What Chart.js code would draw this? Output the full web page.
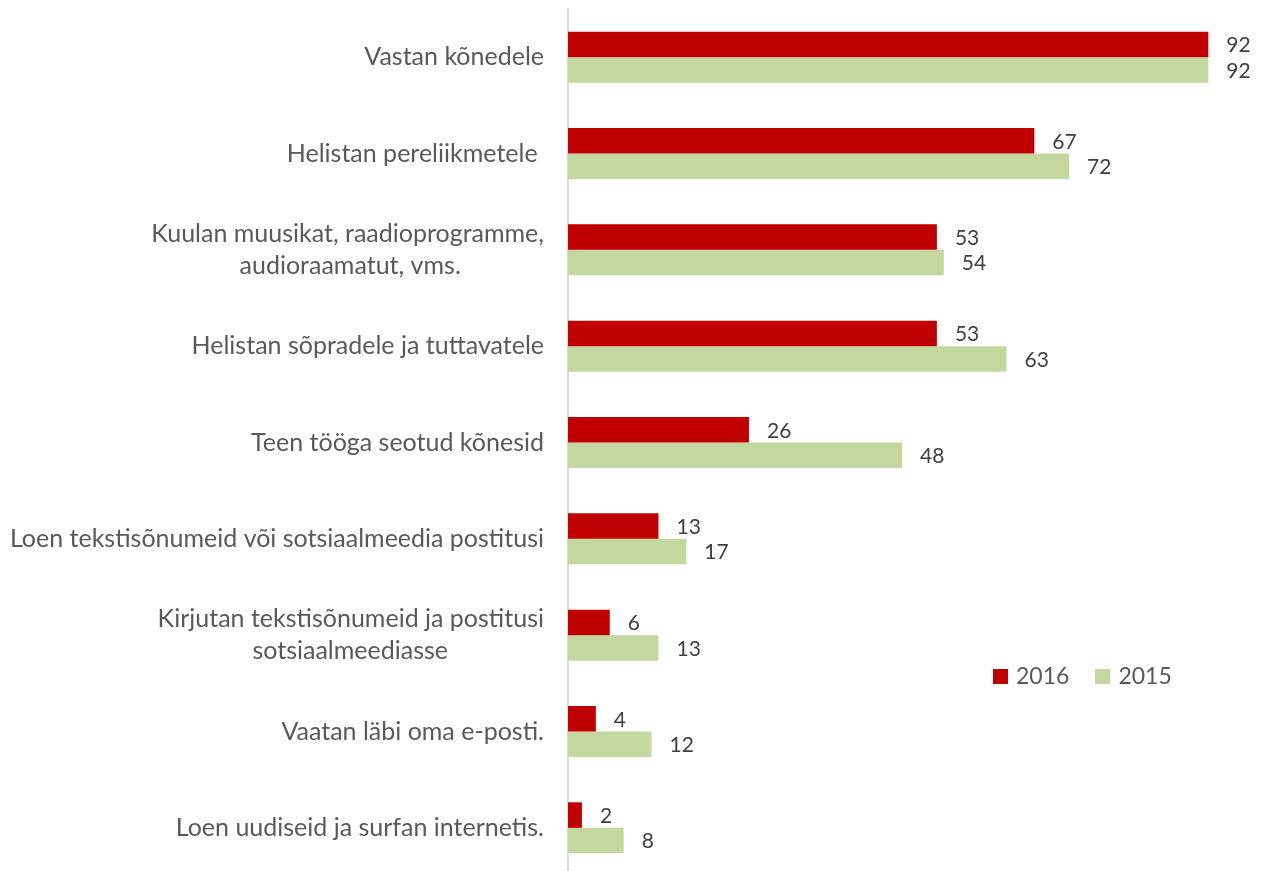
<!DOCTYPE html>
<html>
<head>
<meta charset="utf-8">
<script src="https://cdn.jsdelivr.net/npm/chart.js@4.4.1/dist/chart.umd.min.js"></script>
<style>
  html, body { margin: 0; padding: 0; background: #fff; overflow: hidden; }
  #wrap { position: relative; width: 1266px; height: 876px; }
  #legend { position: absolute; left: 993px; top: 661px; font-family: Lato, sans-serif; font-size: 23px; color: #595959; white-space: nowrap; }
  #legend span.box { display: inline-block; width: 15px; height: 15px; margin-right: 8px; vertical-align: 0px; }
  #legend span.item { margin-right: 26px; }
</style>
</head>
<body>
<div id="wrap">
  <canvas id="myChart" width="1266" height="876"></canvas>
  <div id="legend"></div>
</div>
<script>
var labels = [
  "Vastan kõnedele",
  "Helistan pereliikmetele ",
  ["Kuulan muusikat, raadioprogramme,", "audioraamatut, vms."],
  "Helistan sõpradele ja tuttavatele",
  "Teen tööga seotud kõnesid",
  "Loen tekstisõnumeid või sotsiaalmeedia postitusi",
  ["Kirjutan tekstisõnumeid ja postitusi", "sotsiaalmeediasse"],
  "Vaatan läbi oma e-posti.",
  "Loen uudiseid ja surfan internetis."
];
var values2016 = [92, 67, 53, 53, 26, 13, 6, 4, 2];
var values2015 = [92, 72, 54, 63, 48, 17, 13, 12, 8];
var seriesNames = ["2016", "2015"];
var seriesColors = ["#C00000", "#C4D79F"];

var fontFamily = "Lato, sans-serif";
var labelSize = 25;

// pad the shorter lines so a two-line label looks centred (like Excel does)
function centerLines(lines) {
  const c = document.createElement("canvas").getContext("2d");
  c.font = labelSize + "px " + fontFamily;
  const widest = Math.max(...lines.map(l => c.measureText(l).width));
  const sp = c.measureText("\u00A0").width;
  return lines.map(l => l + "\u00A0".repeat(Math.round((widest - c.measureText(l).width) / 2 / sp)));
}

// value labels next to the bar ends
const valueLabels = {
  id: "valueLabels",
  afterDatasetsDraw(chart) {
    const ctx = chart.ctx;
    ctx.save();
    ctx.font = "21px " + fontFamily;
    ctx.fillStyle = "#404040";
    ctx.textAlign = "left";
    ctx.textBaseline = "middle";
    chart.data.datasets.forEach((ds, i) => {
      chart.getDatasetMeta(i).data.forEach((bar, j) => {
        ctx.fillText(ds.data[j], bar.x + 18, bar.y + 1);
      });
    });
    ctx.restore();
  }
};

createChart();
createLegend();

function createChart() {
  const ctx = document.getElementById("myChart");
  new Chart(ctx, {
    type: "bar",
    data: {
      labels: labels,
      datasets: [
        { label: seriesNames[0], data: values2016, backgroundColor: seriesColors[0] },
        { label: seriesNames[1], data: values2015, backgroundColor: seriesColors[1] }
      ]
    },
    plugins: [valueLabels],
    options: {
      indexAxis: "y",
      responsive: false,
      animation: false,
      layout: { padding: { top: 9, right: 2, left: 0, bottom: 0 } },
      datasets: {
        bar: { categoryPercentage: 0.53, barPercentage: 1.0 }
      },
      plugins: {
        legend: { display: false },
        tooltip: { enabled: false }
      },
      scales: {
        x: { display: false, min: 0, max: 100 },
        y: {
          grid: { display: false },
          border: { color: "#D9D9D9", width: 2 },
          afterFit(scale) {
            scale.width = 568;
            scale.paddingTop = 0;
            scale.paddingBottom = 0;
          },
          ticks: {
            padding: 16,
            color: "#595959",
            font: { family: fontFamily, size: labelSize, lineHeight: 1.28 },
            callback: function (value, index) {
              const l = labels[index];
              return Array.isArray(l) ? centerLines(l) : l;
            }
          }
        }
      }
    }
  });
}

function createLegend() {
  var html = "";
  seriesNames.forEach((name, i) => {
    html += '<span class="item"><span class="box" style="background:' + seriesColors[i] + '"></span>' + name + "</span>";
  });
  document.getElementById("legend").innerHTML = html;
}
</script>
</body>
</html>
